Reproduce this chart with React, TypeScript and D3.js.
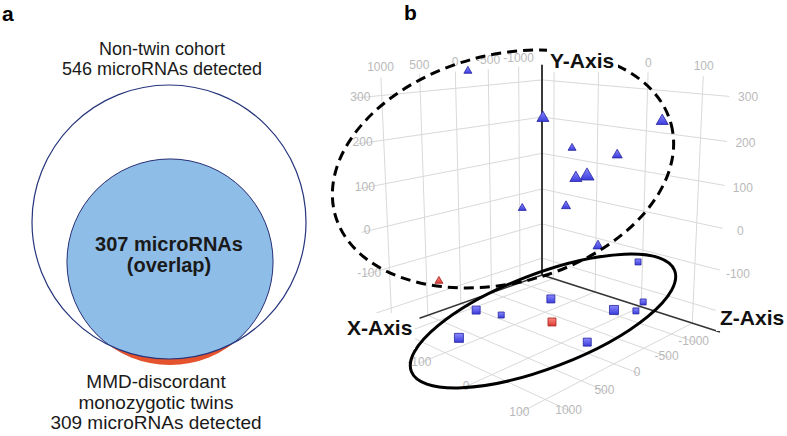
import { useEffect, useRef } from "react";
import * as d3 from "d3";

// ---- panel a: Venn counts ----
const vennCounts = [546, 309];
const overlapCount = 307;
const topLabel = ["Non-twin cohort", `${vennCounts[0]} microRNAs detected`];
const bottomLabel = ["MMD-discordant", "monozygotic twins", `${vennCounts[1]} microRNAs detected`];
const overlapLabel = [`${overlapCount} microRNAs`, "(overlap)"];

// ---- panel b: 3D scatter ----
const xTicks = [-1000, -500, 0, 500, 1000];
const zTicks = [-200, -100, 0, 100];
const yTicks = [-200, -100, 0, 100, 200, 300];
const xRange = [-1411, 1330];
const zRange = [-229, 145];
const yRange = [-250, 340];
// tick labels that stay visible (the others sit under the axis titles)
const yTickLabels = [-100, 0, 100, 200, 300];
const zTopLabels = [0, 100];
const zFloorLabels = [-100, 0, 100];

// blue triangles
const upX = [-149, -150, -825, -404, -616, -282, -604, -155, 91, -360];
const upY = [340, 250, 250, 180, 170, 120, 110, 60, 50, -30];
const upZ = [-223, -58, 87, -32, 30, -9, -26, -12, -68, 26];
const upSize = [8, 12, 12, 8, 10, 12, 14, 9, 8, 10];

// blue squares
const downX = [-1023, -592, 239, 300, 797, -926, -1063, -1076, -88];
const downY = [-100, -220, -220, -200, -230, -230, -200, -230, -235];
const downZ = [31, -99, -152, -85, -102, -4, 39, 24, 40];
const downSize = [6, 8, 8, 6, 9, 9, 6, 6, 8];

// red points
const redX = [492, -183];
const redY = [-150, -230];
const redZ = [-199, -43];
const redShape = ["tri", "sq"];
const redSize = [8, 8];

const font = "'Liberation Sans', Arial, Helvetica, sans-serif";

export default function App() {
  const ref = useRef<SVGSVGElement>(null);
  useEffect(() => {
    if (!ref.current) return;
    const svg = d3.select(ref.current);
    svg.selectAll("*").remove();
    const defs = svg.append("defs");

    // ---------- panel a ----------
    const navy = "#26357c";
    const rS = d3.scaleSqrt().domain([0, d3.max(vennCounts)!]).range([0, 137]);
    const big = { x: 169, y: 222, r: rS(vennCounts[0]) };
    const small = { x: 170, y: 262, r: rS(vennCounts[1]) };
    defs.append("clipPath").attr("id", "bigClip")
      .append("circle").attr("cx", big.x).attr("cy", big.y).attr("r", big.r);
    const ga = svg.append("g");
    ga.append("circle").attr("cx", small.x).attr("cy", small.y).attr("r", small.r).attr("fill", "#e4532d");
    ga.append("circle").attr("cx", small.x).attr("cy", small.y).attr("r", small.r)
      .attr("fill", "#8ebde8").attr("clip-path", "url(#bigClip)");
    ga.append("circle").attr("cx", small.x).attr("cy", small.y).attr("r", small.r)
      .attr("fill", "none").attr("stroke", navy).attr("stroke-width", 1).attr("clip-path", "url(#bigClip)");
    ga.append("circle").attr("cx", big.x).attr("cy", big.y).attr("r", big.r)
      .attr("fill", "none").attr("stroke", navy).attr("stroke-width", 1.2);

    const txt = (g: any, x: number, y: number, s: string, size: number, weight = "normal", anchor = "middle", fill = "#1a1a1a") =>
      g.append("text").attr("x", x).attr("y", y).attr("text-anchor", anchor)
        .attr("font-family", font).attr("font-size", size).attr("font-weight", weight).attr("fill", fill).text(s);

    topLabel.forEach((s, i) => txt(ga, 162, 55 + i * 20, s, 18));
    overlapLabel.forEach((s, i) => txt(ga, 169, 251 + i * 21, s, 20, "bold"));
    bottomLabel.forEach((s, i) => txt(ga, 156, 388 + i * 20.5, s, 19));
    txt(ga, 2, 21, "a", 21, "bold", "start", "#000");
    txt(ga, 404, 20, "b", 21, "bold", "start", "#000");

    // ---------- panel b ----------
    const rad = Math.PI / 180;
    const cp = Math.cos(12.5 * rad), sp = Math.sin(12.5 * rad);
    const cyw = Math.cos(43.6 * rad), syw = Math.sin(43.6 * rad);
    const sX = d3.scaleLinear().domain([-1411, 1000]).range([0, 245.2]);
    const sZ = d3.scaleLinear().domain([-229, 100]).range([0, 237.6]);
    const sY = d3.scaleLinear().domain([-250, 340]).range([0, 281.4]);
    const proj = (X: number, Y: number, Z: number) => {
      const a = sX(X), b = sZ(Z), yw = sY(Y);
      const px = -a * syw + b * cyw;
      const pz = 1000 - a * cyw - b * syw;
      const py = yw - 354.4;
      const zf = -py * sp + pz * cp;
      const yu = py * cp + pz * sp;
      return [542 + (780 * px) / zf, 179 - (780 * yu) / zf, zf];
    };
    const gb = svg.append("g");
    const line = d3.line();
    const seg = (p: number[], q: number[], stroke: string, w: number) => {
      const a = proj(p[0], p[1], p[2]), b = proj(q[0], q[1], q[2]);
      gb.append("path").attr("d", line([[a[0], a[1]], [b[0], b[1]]]))
        .attr("stroke", stroke).attr("stroke-width", w).attr("fill", "none");
    };
    const grid = "#d9d9d9";
    const [x0, x1] = xRange, [y0, y1] = yRange, [z0, z1] = zRange;
    // left wall (z = z0)
    xTicks.forEach((x) => seg([x, y0, z0], [x, y1, z0], grid, 1));
    yTicks.forEach((y) => seg([x0, y, z0], [x1, y, z0], grid, 1));
    // right wall (x = x0)
    zTicks.forEach((z) => seg([x0, y0, z], [x0, y1, z], grid, 1));
    yTicks.forEach((y) => seg([x0, y, z0], [x0, y, z1], grid, 1));
    // floor (y = y0)
    xTicks.forEach((x) => seg([x, y0, z0], [x, y0, z1], grid, 1));
    zTicks.forEach((z) => seg([x0, y0, z], [x1, y0, z], grid, 1));

    const tick = (X: number, Y: number, Z: number, v: number) => {
      const p = proj(X, Y, Z);
      gb.append("text").attr("x", p[0]).attr("y", p[1]).attr("text-anchor", "middle")
        .attr("dominant-baseline", "middle").attr("font-family", font).attr("font-size", 12)
        .attr("fill", "#b9b9b9").text(String(v));
    };
    yTickLabels.forEach((y) => tick(1260, y, z0, y));
    yTickLabels.forEach((y) => tick(x0, y, 175, y));
    xTicks.forEach((x) => tick(x, 360, z0, x));
    zTopLabels.forEach((z) => tick(x0, 360, z, z));
    zFloorLabels.forEach((z) => tick(1330, y0, z, z));
    xTicks.forEach((x) => tick(x, y0, 140, x));

    // dark axis lines
    seg([x0, y0, z0], [x0, y1, z0], "#3a3a3a", 2);
    seg([x0, y0, z0], [620, y0, z0], "#333", 1.5);
    seg([x0, y0, z0], [x0, y0, 150], "#333", 1.5);

    // markers
    const grad = (id: string, c0: string, c1: string) => {
      const lg = defs.append("linearGradient").attr("id", id).attr("x1", 0).attr("y1", 0).attr("x2", 0).attr("y2", 1);
      lg.append("stop").attr("offset", 0).attr("stop-color", c0);
      lg.append("stop").attr("offset", 1).attr("stop-color", c1);
    };
    grad("gBlue", "#8a8aff", "#3b3bdc");
    grad("gRed", "#ff8a80", "#d83a32");
    type M = { X: number; Y: number; Z: number; s: number; shape: string; red: boolean };
    const marks: M[] = [
      ...upX.map((X, i) => ({ X, Y: upY[i], Z: upZ[i], s: upSize[i], shape: "tri", red: false })),
      ...downX.map((X, i) => ({ X, Y: downY[i], Z: downZ[i], s: downSize[i], shape: "sq", red: false })),
      ...redX.map((X, i) => ({ X, Y: redY[i], Z: redZ[i], s: redSize[i], shape: redShape[i], red: true })),
    ];
    const pm = marks.map((m) => ({ m, p: proj(m.X, m.Y, m.Z) })).sort((a, b) => b.p[2] - a.p[2]);
    pm.forEach(({ m, p }) => {
      const sym = d3.symbol()
        .type(m.shape === "tri" ? d3.symbolTriangle : d3.symbolSquare)
        .size(m.shape === "tri" ? 0.433 * m.s * m.s : m.s * m.s);
      gb.append("path").attr("d", sym()!).attr("transform", `translate(${p[0]},${p[1]})`)
        .attr("fill", m.red ? "url(#gRed)" : "url(#gBlue)")
        .attr("stroke", m.red ? "#a8201c" : "#2626a0").attr("stroke-width", 0.8);
    });

    // annotations
    gb.append("ellipse").attr("cx", 0).attr("cy", 0).attr("rx", 174).attr("ry", 114)
      .attr("transform", "translate(503,169) rotate(-15)")
      .attr("fill", "none").attr("stroke", "#000").attr("stroke-width", 3).attr("stroke-dasharray", "10 6");
    gb.append("ellipse").attr("cx", 0).attr("cy", 0).attr("rx", 141).attr("ry", 47)
      .attr("transform", "translate(543,321) rotate(-21)")
      .attr("fill", "none").attr("stroke", "#000").attr("stroke-width", 3);

    const axisLabel = (x: number, y: number, s: string, box: number[]) => {
      gb.append("rect").attr("x", box[0]).attr("y", box[1]).attr("width", box[2]).attr("height", box[3]).attr("fill", "#fff");
      txt(gb, x, y, s, 21, "bold", "start", "#111");
    };
    axisLabel(550, 68, "Y-Axis", [547, 44, 71, 28]);
    axisLabel(347, 335, "X-Axis", [343, 313, 72, 36]);
    axisLabel(720, 325, "Z-Axis", [716, 303, 71, 28]);
  }, []);
  return <svg ref={ref} width={787} height={436} style={{ position: "absolute", left: 0, top: 0, background: "#fff" }} />;
}
